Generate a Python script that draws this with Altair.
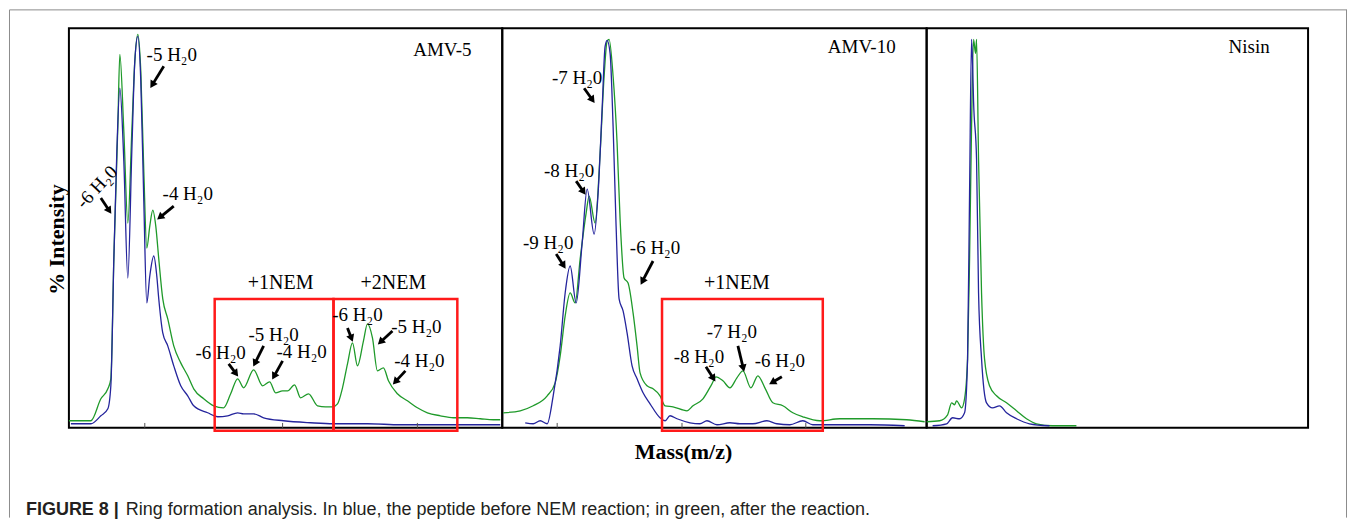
import math
import altair as alt
import pandas as pd

# ---------------- data (x: channel offset inside panel, y: % intensity) ----------------
amv5_green_x = [0, 9, 22, 32, 39, 42, 45, 49, 51, 55, 59, 63, 66, 69, 72, 75, 78, 81, 84, 87,
                90, 94, 99, 105, 112, 119, 125, 135, 145, 155, 162, 169, 175, 185, 194, 201, 207, 214, 219, 226,
                232, 240, 249, 257, 264, 269, 274, 279, 284, 289, 295, 299, 304, 309, 315, 320, 329, 339, 349, 359,
                372, 385, 399, 412, 425, 432]
amv5_green_y = [1.75, 1.75, 1.75, 7.25, 9.75, 12.25, 42.25, 75.5, 93.5, 74.25, 51.25, 74.25, 91.75, 98.5, 89.25, 64.25, 45, 50.5, 54.5, 50.5,
                42.25, 32.25, 27.25, 20.5, 16.25, 13, 9.75, 7.25, 5.5, 5, 8.5, 12.25, 10, 14.5, 10.5, 11.5, 8.75, 9.25, 9.25, 10.75,
                7.5, 8.5, 5.5, 5.25, 5.25, 6, 10, 16, 21.25, 15.5, 21.75, 26, 22.5, 14.25, 15, 11.75, 8.5, 6.75, 5, 3.75,
                3, 2.5, 2.5, 2.25, 2, 2]
amv5_blue_x = [2, 22, 32, 39, 42, 45, 48, 51, 55, 59, 63, 66, 69, 72, 75, 78, 81, 85, 88, 90,
               94, 99, 105, 112, 119, 125, 139, 149, 159, 169, 175, 185, 195, 215, 242, 265, 299, 332, 365, 432]
amv5_blue_y = [1, 1, 3, 4.75, 10.5, 42.25, 69.25, 85, 66.75, 37.5, 69.25, 91.75, 98, 86.75, 56.75, 31.25, 38, 43, 38, 32.25,
               23.75, 20.5, 15.5, 10.5, 8, 5.5, 3.75, 2.75, 3, 3.75, 3.5, 3.5, 2.5, 1.75, 1.25, 1, 1, 0.75, 0.75, 0.75]

amv10_green_x = [1, 18, 31, 45, 53, 58, 63, 68, 73, 78, 84, 87, 93, 98, 102, 105, 107, 111, 115, 118,
                 122, 126, 131, 135, 138, 145, 151, 158, 163, 171, 185, 191, 201, 210, 214, 221, 228, 235, 241, 249,
                 256, 263, 271, 281, 291, 301, 318, 338, 371, 405, 423]
amv10_green_y = [3.75, 4.25, 5.5, 8, 11.25, 18, 28, 33.75, 31.25, 42.25, 53.75, 58, 51.25, 68.75, 88, 96.75, 97.25, 88, 71.25, 52.25,
                 37.5, 36.25, 28.75, 20.5, 13.75, 10.5, 9.75, 8, 5.5, 5.25, 4.25, 5.5, 7.25, 11, 12.75, 11.75, 10, 12.5, 14.25, 10,
                 13, 10, 6.25, 5.5, 3.75, 2.75, 1.75, 2.25, 2.25, 2, 1.5]
amv10_blue_x = [23, 31, 38, 45, 51, 58, 63, 68, 74, 80, 85, 92, 96, 100, 103, 105, 108, 111, 114, 117,
                121, 125, 130, 135, 141, 148, 158, 163, 168, 175, 188, 198, 205, 215, 228, 238, 251, 265, 275, 288,
                301, 311, 338, 368, 403]
amv10_blue_y = [1.25, 1, 1.75, 1, 8, 20.5, 33.75, 40.5, 31.25, 46.25, 59.75, 48.5, 58.75, 79.75, 95.5, 97, 93.75, 75.5, 50.5, 32.25,
                29.25, 23.75, 15.5, 12.25, 8.75, 6, 2.5, 1.75, 3, 2.25, 1.25, 1, 1.75, 0.75, 1.25, 1, 1, 1.75, 1, 0.75,
                1.75, 0.75, 0.75, 0.75, 0.5]

nisin_green_x = [0, 13, 21, 25, 28, 30, 35, 38, 41, 43, 45, 47, 49, 50, 52, 55, 58, 63, 70, 80, 90, 100, 110, 126, 150]
nisin_green_y = [1.5, 1.75, 3.25, 6.25, 5.75, 6.75, 5, 7.25, 17.25, 42.25, 75.5, 97.25, 93.75, 97.25, 67.25, 33.75, 17.25,
                 10.5, 8, 6.25, 4.25, 2.25, 1, 0.5, 0.5]
nisin_blue_x = [6, 20, 26, 33, 38, 41, 43, 45, 46, 47, 50, 52, 55, 60, 66, 73, 80, 90, 103, 123]
nisin_blue_y = [0.5, 1, 2.5, 2.25, 3.75, 17.25, 58.75, 97.25, 91.25, 81.75, 67.25, 33.75, 17.25, 6.25, 5, 5.5, 3.75,
                2.25, 1, 0.5]

# peak annotations
amv5_label_text = ["-5 H₂0", "-4 H₂0", "-6 H₂0", "-5 H₂0", "-4 H₂0", "-6 H₂0", "-5 H₂0", "-4 H₂0"]
amv5_label_x = [103, 119, 152, 205, 233, 289, 348, 351]
amv5_label_y = [91.75, 57, 17.25, 21.75, 17.5, 26.75, 23.75, 15.25]
amv5_tilted_text = ["-6 H₂0"]
amv5_tilted_x = [28]
amv5_tilted_y = [60.25]
amv5_group_text = ["+1NEM", "+2NEM"]
amv5_group_x = [212, 325]
amv5_group_y = [34.75, 34.75]
amv5_arrow_tail_x = [95, 32, 105, 160, 195, 214, 279, 324, 337]
amv5_arrow_tail_y = [90.5, 57.5, 55.5, 16, 20.5, 16.75, 25, 24.25, 14.25]
amv5_arrow_head_x = [82, 42, 89, 169, 185, 204, 284, 310, 325]
amv5_arrow_head_y = [85.25, 53.75, 52.25, 13, 15.5, 12.25, 21.75, 21, 11]
amv5_box_x1 = [146, 265]
amv5_box_x2 = [265, 389]
amv5_box_bottom = [-0.75, -0.75]
amv5_box_top = [32.25, 32.25]
amv5_ticks = [76, 214, 349]

amv10_label_text = ["-7 H₂0", "-8 H₂0", "-9 H₂0", "-6 H₂0", "-7 H₂0", "-8 H₂0", "-6 H₂0"]
amv10_label_x = [75, 67, 46, 153, 230, 197, 278]
amv10_label_y = [86, 62.75, 44.75, 43.5, 22.5, 16.25, 15.25]
amv10_group_text = ["+1NEM"]
amv10_group_x = [235]
amv10_group_y = [34.75]
amv10_arrow_tail_x = [82, 74, 54, 151, 236, 204, 280]
amv10_arrow_tail_y = [85, 61.75, 43.5, 41.75, 20.5, 15.25, 12.75]
amv10_arrow_head_x = [92, 83, 63, 139, 242, 213, 268]
amv10_arrow_head_y = [81.5, 58.5, 40, 36, 14.25, 11.75, 11]
amv10_box_x1 = [160]
amv10_box_x2 = [321]
amv10_box_bottom = [-0.75]
amv10_box_top = [32.25]
amv10_ticks = [55, 180, 304]

panel_names = ["AMV-5", "AMV-10", "Nisin"]
panel_name_x = [374, 360, 323]
panel_name_y = [93, 93.75, 93.75]
panel_widths = [434, 425, 382]

caption_bold = "FIGURE 8 |"
caption_rest = "Ring formation analysis. In blue, the peptide before NEM reaction; in green, after the reaction."

# ---------------- styling ----------------
GREEN = "#1f9a2a"
BLUE = "#24249c"
RED = "#ff1a1a"
SERIF = "Liberation Serif"
SANS = "Liberation Sans"
PANEL_H = 400
Y_MAX = 100
PX_PER_Y = PANEL_H / Y_MAX


def arrow_tables(tx, ty, hx, hy):
    shafts, heads = [], []
    for a, b, c, d in zip(tx, ty, hx, hy):
        dxp = c - a
        dyp = -(d - b) * PX_PER_Y
        length = math.hypot(dxp, dyp)
        ux, uy = dxp / length, dyp / length
        ang = math.degrees(math.atan2(ux, -uy)) % 360
        cx = c - ux * 4
        cy = d + uy * 4 / PX_PER_Y
        shafts.append({"x": a, "y": b, "x2": cx, "y2": cy})
        heads.append({"x": cx, "y": cy, "angle": ang})
    return pd.DataFrame(shafts), pd.DataFrame(heads)


def build_panel(idx, gx, gy, bx, by, xaxis, yaxis, labels=None, groups=None,
                arrows=None, boxes=None, ticks=None, extra=None):
    width = panel_widths[idx]
    X = alt.X("x:Q", scale=alt.Scale(domain=[0, width], nice=False, zero=False), axis=xaxis)
    Y = alt.Y("y:Q", scale=alt.Scale(domain=[0, Y_MAX], nice=False, zero=False), axis=yaxis)
    layers = []
    if extra:
        layers += extra["back"]
    layers.append(alt.Chart(pd.DataFrame({"x": gx, "y": gy})).mark_line(
        color=GREEN, strokeWidth=1.3, interpolate="monotone").encode(X, Y))
    layers.append(alt.Chart(pd.DataFrame({"x": bx, "y": by})).mark_line(
        color=BLUE, strokeWidth=1.3, interpolate="monotone").encode(X, Y))
    if ticks:
        layers.append(alt.Chart(pd.DataFrame({"x": ticks, "y": [0] * len(ticks),
                                              "y2": [1.2] * len(ticks)})).mark_rule(
            color="#555", strokeWidth=1).encode(X, Y, y2=alt.Y2("y2:Q")))
    if boxes:
        layers.append(alt.Chart(pd.DataFrame({"x": boxes[0], "x2": boxes[1], "y": boxes[2],
                                              "y2": boxes[3]})).mark_rect(
            fillOpacity=0, stroke=RED, strokeWidth=2.5).encode(X, Y, x2=alt.X2("x2:Q"), y2=alt.Y2("y2:Q")))
    if arrows:
        shafts, heads = arrow_tables(*arrows)
        layers.append(alt.Chart(shafts).mark_rule(color="black", strokeWidth=2.8).encode(
            X, Y, x2=alt.X2("x2:Q"), y2=alt.Y2("y2:Q")))
        layers.append(alt.Chart(heads).mark_point(shape="triangle", filled=True, size=70,
                                                  color="black", opacity=1, strokeWidth=0).encode(
            X, Y, angle=alt.Angle("angle:Q", scale=None)))
    if labels:
        layers.append(alt.Chart(pd.DataFrame({"t": labels[0], "x": labels[1], "y": labels[2]})).mark_text(
            font=SERIF, fontSize=19, align="center", baseline="alphabetic", color="black").encode(
            X, Y, text="t:N"))
    if groups:
        layers.append(alt.Chart(pd.DataFrame({"t": groups[0], "x": groups[1], "y": groups[2]})).mark_text(
            font=SERIF, fontSize=20, align="center", baseline="alphabetic", color="black").encode(
            X, Y, text="t:N"))
    layers.append(alt.Chart(pd.DataFrame({"t": [panel_names[idx]], "x": [panel_name_x[idx]],
                                          "y": [panel_name_y[idx]]})).mark_text(
        font=SERIF, fontSize=19, align="center", baseline="alphabetic", color="black").encode(
        X, Y, text="t:N"))
    if extra:
        layers += extra["front"](X, Y)
    return alt.layer(*layers).properties(width=width, height=PANEL_H)


y_axis = alt.Axis(title="% Intensity", labels=False, ticks=False, domain=False, grid=False,
                  titleFont=SERIF, titleFontSize=22, titleFontWeight="bold", titleColor="black",
                  titleAngle=270, titleX=-5, titleY=211, titleBaseline="alphabetic", titleAlign="center")
x_axis_mid = alt.Axis(title="Mass(m/z)", labels=False, ticks=False, domain=False, grid=False,
                      titleFont=SERIF, titleFontSize=22, titleFontWeight="bold", titleColor="black",
                      titleX=181, titleY=31, titleBaseline="alphabetic", titleAlign="center")

# outer figure frame (top, left and right edges; it continues below the visible page)
one = pd.DataFrame({"k": [0]})
frame_top = alt.Chart(one).mark_rule(color="#8c8c8c", strokeWidth=1).encode(
    x=alt.value(-59.5), x2=alt.value(1280), y=alt.value(-18.5))
frame_left = alt.Chart(one).mark_rule(color="#8c8c8c", strokeWidth=1).encode(
    x=alt.value(-59.5), y=alt.value(-18.5), y2=alt.value(490))
frame_right = alt.Chart(one).mark_rule(color="#8c8c8c", strokeWidth=1).encode(
    x=alt.value(1279.5), y=alt.value(-18.5), y2=alt.value(490))


def amv5_front(X, Y):
    tilted = alt.Chart(pd.DataFrame({"t": amv5_tilted_text, "x": amv5_tilted_x, "y": amv5_tilted_y})).mark_text(
        font=SERIF, fontSize=19, align="center", baseline="middle", angle=313, color="black").encode(
        X, Y, text="t:N")
    cap1 = alt.Chart(pd.DataFrame({"t": [caption_bold]})).mark_text(
        font=SANS, fontSize=18, fontWeight="bold", align="left", baseline="alphabetic", color="#231f20").encode(
        x=alt.value(-43), y=alt.value(487), text="t:N")
    cap2 = alt.Chart(pd.DataFrame({"t": [caption_rest]})).mark_text(
        font=SANS, fontSize=18, align="left", baseline="alphabetic", color="#231f20").encode(
        x=alt.value(57), y=alt.value(487), text="t:N")
    return [tilted, cap1, cap2]


p1 = build_panel(0, amv5_green_x, amv5_green_y, amv5_blue_x, amv5_blue_y, None, y_axis,
                 labels=(amv5_label_text, amv5_label_x, amv5_label_y),
                 groups=(amv5_group_text, amv5_group_x, amv5_group_y),
                 arrows=(amv5_arrow_tail_x, amv5_arrow_tail_y, amv5_arrow_head_x, amv5_arrow_head_y),
                 boxes=(amv5_box_x1, amv5_box_x2, amv5_box_bottom, amv5_box_top),
                 ticks=amv5_ticks,
                 extra={"back": [frame_top, frame_left, frame_right], "front": amv5_front})
p2 = build_panel(1, amv10_green_x, amv10_green_y, amv10_blue_x, amv10_blue_y, x_axis_mid, None,
                 labels=(amv10_label_text, amv10_label_x, amv10_label_y),
                 groups=(amv10_group_text, amv10_group_x, amv10_group_y),
                 arrows=(amv10_arrow_tail_x, amv10_arrow_tail_y, amv10_arrow_head_x, amv10_arrow_head_y),
                 boxes=(amv10_box_x1, amv10_box_x2, amv10_box_bottom, amv10_box_top),
                 ticks=amv10_ticks)
p3 = build_panel(2, nisin_green_x, nisin_green_y, nisin_blue_x, nisin_blue_y, None, None)

chart = alt.hconcat(p1, p2, p3, spacing=0, bounds="flush").properties(
    padding={"left": 0, "top": 0, "right": 0, "bottom": 0}
).configure_view(stroke="black", strokeWidth=2)

chart.save("out.html", embed_options={"renderer": "svg", "actions": False})
